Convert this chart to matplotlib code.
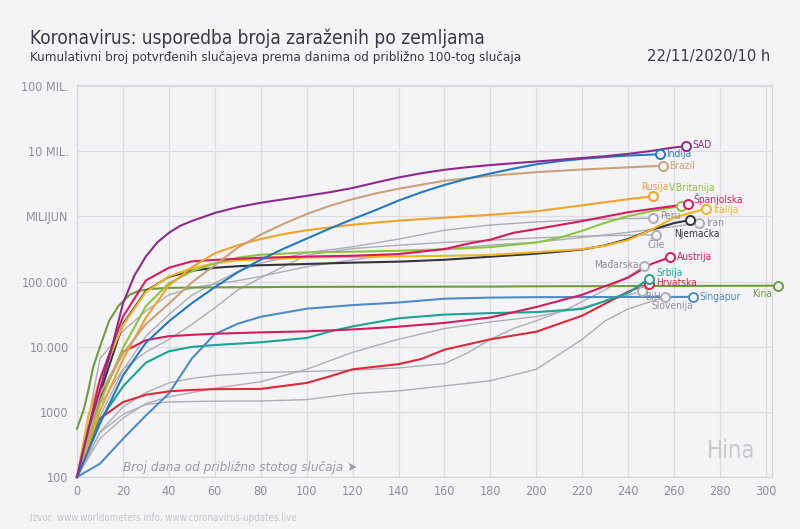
import matplotlib
matplotlib.use("Agg")
from matplotlib import pyplot as plt
from matplotlib.ticker import FixedLocator, FixedFormatter

plt.rcParams['font.family'] = ['DejaVu Sans']
plt.rcParams['font.stretch'] = 'condensed'

# days since ~100th case / cumulative confirmed cases
sad_d = [0, 5, 10, 15, 20, 25, 30, 35, 40, 45, 50, 60, 70, 80, 100, 110, 120, 130, 140, 150, 160,
         170, 180, 190, 200, 210, 220, 230, 240, 250, 258, 265]
sad_v = [100, 540, 2200, 9200, 46000, 124000, 243000, 400000, 560000, 720000, 850000, 1130000,
         1390000, 1620000, 2070000, 2350000, 2730000, 3300000, 3960000, 4600000, 5200000, 5700000,
         6140000, 6550000, 6960000, 7400000, 7890000, 8400000, 9130000, 10100000, 11200000, 12000000]

indija_d = [0, 10, 20, 30, 40, 50, 60, 70, 80, 90, 100, 110, 120, 130, 140, 150, 160, 170, 180, 190,
            200, 210, 220, 230, 240, 254]
indija_v = [100, 660, 3600, 11500, 24500, 46500, 82000, 139000, 217000, 320000, 456000, 650000,
            907000, 1250000, 1750000, 2350000, 3040000, 3800000, 4560000, 5400000, 6310000,
            7050000, 7650000, 8150000, 8590000, 9000000]

brazil_d = [0, 5, 10, 20, 30, 40, 50, 60, 70, 80, 90, 100, 110, 120, 130, 140, 160, 180, 200, 220,
            240, 255]
brazil_v = [100, 430, 1900, 7900, 22200, 45800, 97100, 178000, 331000, 526000, 770000, 1087000,
            1450000, 1840000, 2250000, 2660000, 3530000, 4200000, 4780000, 5250000, 5660000, 6000000]

rusija_d = [0, 10, 20, 30, 40, 50, 60, 70, 80, 90, 100, 120, 140, 160, 180, 200, 220, 240, 251]
rusija_v = [100, 1040, 6340, 27900, 87100, 166000, 272000, 362000, 450000, 535000, 614000, 746000,
            861000, 957000, 1060000, 1200000, 1480000, 1840000, 2040000]

vb_d = [0, 10, 20, 30, 40, 50, 60, 70, 80, 100, 120, 140, 160, 180, 200, 210, 220, 230, 240, 250, 263]
vb_v = [100, 1390, 9530, 41900, 93900, 143000, 191000, 233000, 258000, 280000, 287000, 297000,
        313000, 338000, 398000, 470000, 603000, 800000, 1010000, 1200000, 1450000]

spanjolska_d = [0, 10, 20, 30, 40, 50, 60, 80, 100, 120, 140, 160, 170, 180, 190, 200, 220, 240, 266]
spanjolska_v = [100, 3150, 28800, 104000, 163000, 204000, 215000, 232000, 242000, 249000, 264000,
                315000, 380000, 440000, 560000, 640000, 849000, 1160000, 1550000]

italija_d = [0, 5, 10, 20, 30, 40, 50, 60, 70, 80, 100, 120, 140, 160, 180, 200, 220, 230, 240, 250,
             260, 274]
italija_v = [100, 890, 3090, 21200, 69200, 120000, 160000, 190000, 211000, 221000, 234000, 239000,
             243000, 248000, 256000, 283000, 315000, 355000, 434000, 620000, 960000, 1320000]

njemacka_d = [0, 10, 20, 30, 40, 50, 60, 70, 80, 100, 120, 140, 160, 180, 200, 220, 230, 240, 250,
              260, 267]
njemacka_v = [100, 1900, 22200, 71800, 118000, 146000, 163000, 172000, 178000, 186000, 195000,
              202000, 216000, 241000, 268000, 310000, 360000, 450000, 620000, 790000, 880000]

austrija_d = [0, 10, 20, 30, 40, 50, 60, 80, 100, 120, 140, 160, 180, 200, 220, 240, 250, 258]
austrija_v = [100, 1650, 8270, 12600, 14500, 15200, 15800, 16600, 17200, 18400, 20300, 23200,
              28100, 40700, 62800, 115000, 186000, 235000]

srbija_d = [0, 10, 20, 30, 40, 50, 60, 80, 100, 110, 120, 140, 160, 180, 200, 220, 240, 249]
srbija_v = [100, 740, 2450, 5690, 8500, 9940, 10600, 11700, 13600, 17100, 20500, 27300, 31100,
            32800, 34000, 38000, 67000, 110000]

hrvatska_d = [0, 10, 20, 30, 40, 50, 60, 80, 100, 110, 120, 140, 150, 160, 180, 200, 220, 240, 249]
hrvatska_v = [100, 790, 1410, 1830, 2060, 2170, 2230, 2250, 2780, 3500, 4500, 5400, 6500, 9000,
              13000, 17000, 30000, 70000, 93000]

kina_d = [0, 3, 5, 7, 10, 14, 18, 23, 27, 32, 40, 50, 60, 80, 90, 150, 180, 200, 250, 305]
kina_v = [550, 1100, 2200, 4800, 10000, 25000, 42000, 63000, 72000, 77000, 80000, 80900, 81400,
          82000, 82800, 83400, 83700, 84600, 85400, 86400]

singapur_d = [0, 10, 20, 30, 40, 50, 60, 70, 80, 100, 120, 140, 160, 180, 200, 220, 240, 268]
singapur_v = [100, 160, 385, 880, 1910, 6590, 15600, 22500, 28800, 38300, 43500, 47700, 54600,
              56700, 57600, 57800, 58000, 58100]

peru_d = [0, 10, 20, 30, 40, 50, 60, 70, 80, 100, 120, 140, 160, 180, 200, 220, 240, 251]
peru_v = [100, 850, 4340, 14400, 31200, 61800, 94900, 142000, 192000, 276000, 342000, 448000,
          613000, 738000, 822000, 889000, 925000, 940000]

iran_d = [0, 10, 20, 30, 40, 50, 60, 70, 80, 100, 120, 140, 160, 180, 200, 220, 240, 260, 271]
iran_v = [100, 6570, 17400, 35400, 62600, 79500, 91500, 103000, 120000, 169000, 215000, 267000,
          317000, 363000, 402000, 476000, 569000, 700000, 790000]

cile_d = [0, 10, 20, 30, 40, 50, 60, 70, 80, 100, 120, 140, 160, 180, 200, 220, 240, 252]
cile_v = [100, 1310, 4470, 8270, 12900, 22000, 39500, 74000, 114000, 254000, 321000, 361000,
          399000, 431000, 468000, 497000, 515000, 525000]

madarska_d = [0, 10, 20, 30, 40, 50, 60, 80, 100, 120, 140, 160, 170, 180, 190, 200, 215, 230, 240, 247]
madarska_v = [100, 490, 1190, 1980, 2780, 3260, 3600, 4030, 4160, 4370, 4720, 5500, 8000, 13000,
              19000, 25000, 40000, 75000, 120000, 175000]

bih_d = [0, 10, 20, 30, 40, 60, 80, 100, 120, 140, 160, 180, 200, 220, 240, 246]
bih_v = [100, 390, 800, 1340, 1700, 2300, 2900, 4500, 8200, 13000, 19000, 24000, 29000, 40000,
         62000, 72000]

slovenija_d = [0, 10, 20, 30, 40, 60, 80, 100, 120, 140, 160, 180, 200, 220, 230, 240, 256]
slovenija_v = [100, 480, 910, 1300, 1420, 1460, 1470, 1540, 1900, 2100, 2500, 3000, 4500, 13000,
               25000, 38000, 58000]

x_ticks = list(range(0, 301, 20))
y_ticks = [1e2, 1e3, 1e4, 1e5, 1e6, 1e7, 1e8]
y_labels = ["100", "1000", "10.000", "100.000", "MILIJUN", "10 MIL.", "100 MIL."]

BG = "#f4f4f6"
GRAY = "#adadb5"
GRAY_TXT = "#8e8e98"

# name, days, values, line colour, label colour, label offset (px), ha, va
series = [
    ("Peru", peru_d, peru_v, GRAY, GRAY_TXT, (7, 2), "left", "center"),
    ("Iran", iran_d, iran_v, GRAY, GRAY_TXT, (7, 0), "left", "center"),
    ("Čile", cile_d, cile_v, GRAY, GRAY_TXT, (0, -5), "center", "top"),
    ("Mađarska", madarska_d, madarska_v, GRAY, GRAY_TXT, (-6, 1), "right", "center"),
    ("BiH", bih_d, bih_v, GRAY, GRAY_TXT, (3, -1), "left", "top"),
    ("Slovenija", slovenija_d, slovenija_v, GRAY, GRAY_TXT, (7, -4), "center", "top"),
    ("Kina", kina_d, kina_v, "#6f9c3d", "#6f9c3d", (-15, -3), "center", "top"),
    ("Singapur", singapur_d, singapur_v, "#4f8bc6", "#4f8bc6", (7, 0), "left", "center"),
    ("Hrvatska", hrvatska_d, hrvatska_v, "#e0283a", "#e0283a", (7, 1), "left", "center"),
    ("Srbija", srbija_d, srbija_v, "#19a596", "#19a596", (7, 6), "left", "center"),
    ("Austrija", austrija_d, austrija_v, "#d21e5c", "#d21e5c", (7, 0), "left", "center"),
    ("Njemačka", njemacka_d, njemacka_v, "#34343f", "#34343f", (7, -8), "center", "top"),
    ("Italija", italija_d, italija_v, "#f0b525", "#f0b525", (7, -1), "left", "center"),
    ("V.Britanija", vb_d, vb_v, "#8dc540", "#8dc540", (11, 13), "center", "bottom"),
    ("Španjolska", spanjolska_d, spanjolska_v, "#d61c5e", "#d61c5e", (5, 5), "left", "center"),
    ("Rusija", rusija_d, rusija_v, "#f2a12a", "#f2a12a", (1, 4), "center", "bottom"),
    ("Brazil", brazil_d, brazil_v, "#c9a27b", "#c9a27b", (6, 0), "left", "center"),
    ("Indija", indija_d, indija_v, "#2479c0", "#2479c0", (6, 0), "left", "center"),
    ("SAD", sad_d, sad_v, "#8e2a8c", "#8e2a8c", (7, 1), "left", "center"),
]

fig = plt.figure(figsize=(8.0, 5.29), dpi=100, facecolor=BG)
ax = fig.add_axes([77 / 800, 52 / 529, 695 / 800, 392 / 529], facecolor=BG)

ax.set_yscale("log")
ax.set_xlim(0, 302.6)
ax.set_ylim(100, 1.04e8)

px = 0.72  # points per pixel
for name, d, v, col, tcol, (dx, dy), ha, va in series:
    is_gray = col == GRAY
    ax.plot(d, v, color=col, lw=1.0 if is_gray else 1.5, zorder=2 if is_gray else 3,
            solid_joinstyle="round", clip_on=False)
    ax.plot(d[-1], v[-1], "o", ms=6.5, mfc=BG, mec=col, mew=1.4, zorder=5, clip_on=False)
    ax.annotate(name, (d[-1], v[-1]), xytext=(dx * px, dy * px), textcoords="offset points",
                ha=ha, va=va, color=tcol, fontsize=7.3, zorder=6, annotation_clip=False)

ax.xaxis.set_major_locator(FixedLocator(x_ticks))
ax.yaxis.set_major_locator(FixedLocator(y_ticks))
ax.yaxis.set_major_formatter(FixedFormatter(y_labels))
ax.yaxis.set_minor_locator(FixedLocator([]))
ax.grid(True, color="#dcdce2", lw=0.9, zorder=0)
ax.set_axisbelow(True)
ax.tick_params(length=0, colors=GRAY_TXT, labelsize=9, pad=6)
for s in ax.spines.values():
    s.set_color("#d6d6dc")
    s.set_linewidth(0.9)

ax.text(20, 140, "Broj dana od približno stotog slučaja ➤", style="italic", color="#9a9aa6",
        fontsize=9.6, ha="left", va="center", zorder=4)
ax.text(0.975, 0.035, "Hina", transform=ax.transAxes, ha="right", va="bottom",
        color="#c9c9cf", fontsize=17, zorder=1)

fig.text(30 / 800, 1 - 38 / 529, "Koronavirus: usporedba broja zaraženih po zemljama",
         fontsize=13.7, color="#3a3a44", ha="left", va="center")
fig.text(30 / 800, 1 - 58 / 529,
         "Kumulativni broj potvrđenih slučajeva prema danima od približno 100-tog slučaja",
         fontsize=9.6, color="#3a3a44", ha="left", va="center")
fig.text(770 / 800, 1 - 57 / 529, "22/11/2020/10 h", fontsize=11.8, color="#3a3a44",
         ha="right", va="center")
fig.text(30 / 800, 1 - 518 / 529, "Izvor: www.worldometers.info, www.coronavirus-updates.live",
         fontsize=7, color="#c4c4cc", ha="left", va="center")

fig.savefig("out.png", dpi=100, facecolor=BG)
